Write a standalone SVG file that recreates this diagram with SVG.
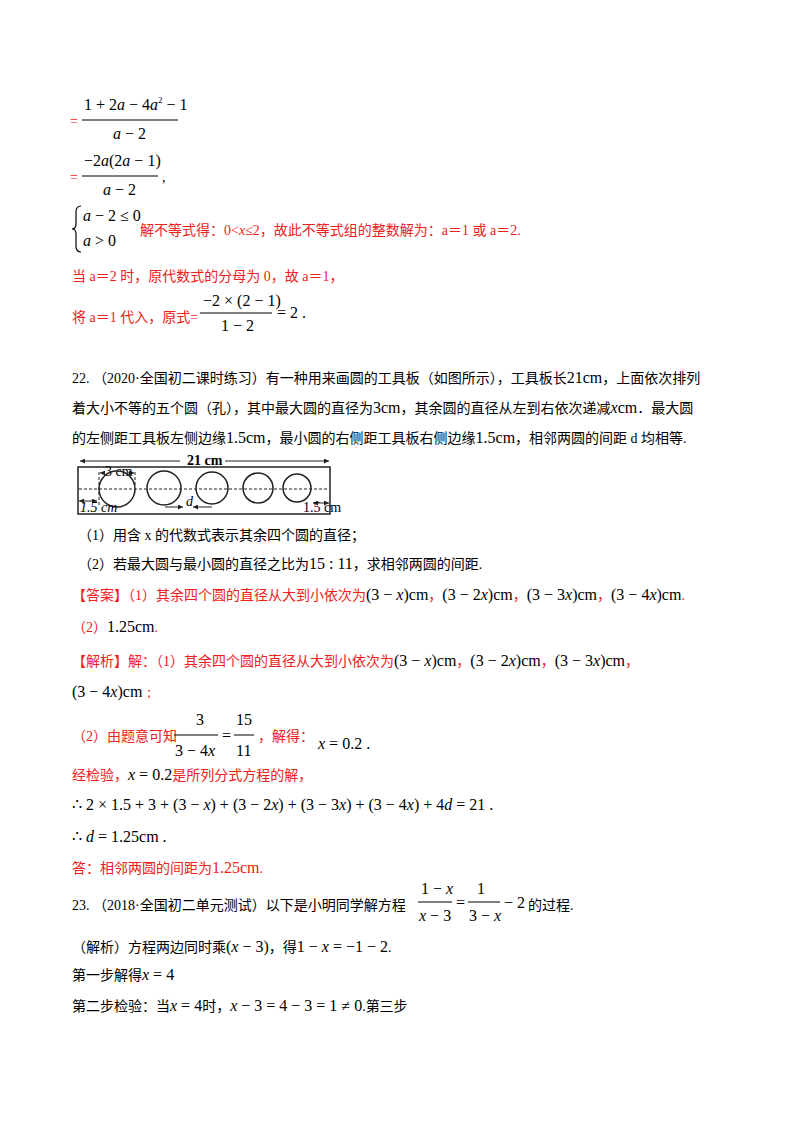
<svg xmlns="http://www.w3.org/2000/svg" width="800" height="1132" viewBox="0 0 800 1132">
<style>
text{font-family:"Liberation Serif","Noto Sans CJK SC",serif;font-size:14px;fill:#000}
.r{fill:#f02020}
.m{font-family:"Liberation Serif",serif;font-size:16px}
.i{font-style:italic}
.ln{stroke:#000;stroke-width:1;fill:none}
.c{fill:none;stroke:#222;stroke-width:1.5}
.d{stroke:#222;stroke-width:1;stroke-dasharray:3 2;fill:none}
</style>
<defs><marker id="a" viewBox="0 0 6 6" refX="6" refY="3" markerWidth="5" markerHeight="5" orient="auto-start-reverse"><path d="M0,0L6,3L0,6z" fill="#222"/></marker></defs>
<rect width="800" height="1132" fill="#fff"/>
<g id="text">
<text x="70" y="126" class="r">=</text>
<text x="84" y="110" class="m">1 + 2<tspan class="i">a</tspan> − 4<tspan class="i">a</tspan><tspan font-size="9" dy="-7">2</tspan><tspan dy="7"> − 1</tspan></text>
<line x1="82" y1="120" x2="178" y2="120" class="ln"/>
<text x="113" y="139" class="m"><tspan class="i">a</tspan> − 2</text>
<text x="70" y="182" class="r">=</text>
<text x="84" y="166" class="m">−2<tspan class="i">a</tspan>(2<tspan class="i">a</tspan> − 1)</text>
<line x1="82" y1="176" x2="158" y2="176" class="ln"/>
<text x="103" y="195" class="m"><tspan class="i">a</tspan> − 2</text>
<text x="162" y="182">,</text>
<path d="M81,206 Q76,206 76,212 L76,224 Q76,229 72,229 Q76,229 76,234 L76,246 Q76,252 81,252" fill="none" stroke="#000" stroke-width="1.2"/>
<text x="83" y="221" class="m"><tspan class="i">a</tspan> − 2 ≤ 0</text>
<text x="83" y="246" class="m"><tspan class="i">a</tspan> &gt; 0</text>
<text x="140" y="235" class="r">解不等式得：0&lt;<tspan font-style="italic">x</tspan>≤2，故此不等式组的整数解为：a＝1 或 a＝2.</text>
<text x="72" y="281" class="r">当 a＝2 时，原代数式的分母为 0，故 a＝1，</text>
<text x="72" y="322" class="r">将 a＝1 代入，原式=</text>
<text x="203" y="306" class="m">−2 × (2 − 1)</text>
<line x1="200" y1="313" x2="272" y2="313" class="ln"/>
<text x="221" y="331" class="m">1 − 2</text>
<text x="277" y="318" class="m">= 2 .</text>
<text x="72" y="383">22. （2020·全国初二课时练习）有一种用来画圆的工具板（如图所示），工具板长<tspan class="m">21cm</tspan>，上面依次排列</text>
<text x="72" y="413">着大小不等的五个圆（孔），其中最大圆的直径为<tspan class="m">3cm</tspan>，其余圆的直径从左到右依次递减<tspan class="m"><tspan class="i">x</tspan>cm</tspan>．最大圆</text>
<text x="72" y="443">的左侧距工具板左侧边缘<tspan class="m">1.5cm</tspan>，最小圆的右侧距工具板右侧边缘<tspan class="m">1.5cm</tspan>，相邻两圆的间距 d 均相等.</text>
<text x="78" y="540">（1）用含 x 的代数式表示其余四个圆的直径；</text>
<text x="78" y="569">（2）若最大圆与最小圆的直径之比为<tspan class="m">15 : 11</tspan>，求相邻两圆的间距.</text>
<text x="72" y="600" class="r">【答案】（1）其余四个圆的直径从大到小依次为<tspan class="m" fill="#000">(3 − <tspan class="i">x</tspan>)cm</tspan>，<tspan class="m" fill="#000">(3 − 2<tspan class="i">x</tspan>)cm</tspan>，<tspan class="m" fill="#000">(3 − 3<tspan class="i">x</tspan>)cm</tspan>，<tspan class="m" fill="#000">(3 − 4<tspan class="i">x</tspan>)cm</tspan>.</text>
<text x="72" y="632" class="r">（2）<tspan class="m" fill="#000">1.25cm</tspan>.</text>
<text x="72" y="666" class="r">【解析】解：（1）其余四个圆的直径从大到小依次为<tspan class="m" fill="#000">(3 − <tspan class="i">x</tspan>)cm</tspan>，<tspan class="m" fill="#000">(3 − 2<tspan class="i">x</tspan>)cm</tspan>，<tspan class="m" fill="#000">(3 − 3<tspan class="i">x</tspan>)cm</tspan>，</text>
<text x="72" y="697" class="m">(3 − 4<tspan class="i">x</tspan>)cm<tspan class="r" font-size="14">；</tspan></text>
<text x="72" y="741" class="r">（2）由题意可知</text>
<text x="196" y="725" class="m">3</text>
<text x="175" y="756" class="m">3 − 4<tspan class="i">x</tspan></text>
<line x1="174" y1="735" x2="218" y2="735" class="ln"/>
<text x="222" y="741" class="m">=</text>
<text x="236" y="725" class="m">15</text>
<text x="236" y="756" class="m">11</text>
<line x1="234" y1="735" x2="254" y2="735" class="ln"/>
<text x="258" y="741" class="r">，解得：</text>
<text x="318" y="749" class="m"><tspan class="i">x</tspan> = 0.2 .</text>
<text x="72" y="780" class="r">经检验，<tspan class="m" fill="#000"><tspan class="i">x</tspan> = 0.2</tspan>是所列分式方程的解，</text>
<text x="72" y="810" class="m">∴ 2 × 1.5 + 3 + (3 − <tspan class="i">x</tspan>) + (3 − 2<tspan class="i">x</tspan>) + (3 − 3<tspan class="i">x</tspan>) + (3 − 4<tspan class="i">x</tspan>) + 4<tspan class="i">d</tspan> = 21 .</text>
<text x="72" y="842" class="m">∴ <tspan class="i">d</tspan> = 1.25cm .</text>
<text x="72" y="873" class="r">答：相邻两圆的间距为<tspan class="m">1.25cm</tspan>.</text>
<text x="72" y="910">23. （2018·全国初二单元测试）以下是小明同学解方程</text>
<text x="421" y="894" class="m">1 − <tspan class="i">x</tspan></text>
<text x="419" y="921" class="m"><tspan class="i">x</tspan> − 3</text>
<line x1="418" y1="902" x2="452" y2="902" class="ln"/>
<text x="456" y="908" class="m">=</text>
<text x="477" y="894" class="m">1</text>
<text x="469" y="921" class="m">3 − <tspan class="i">x</tspan></text>
<line x1="468" y1="902" x2="500" y2="902" class="ln"/>
<text x="504" y="908" class="m">− 2</text>
<text x="528" y="910">的过程.</text>
<text x="72" y="952">（解析）方程两边同时乘<tspan class="m">(<tspan class="i">x</tspan> − 3)</tspan>，得<tspan class="m">1 − <tspan class="i">x</tspan> = −1 − 2</tspan>.</text>
<text x="72" y="980">第一步解得<tspan class="m"><tspan class="i">x</tspan> = 4</tspan></text>
<text x="72" y="1011">第二步检验：当<tspan class="m"><tspan class="i">x</tspan> = 4</tspan>时，<tspan class="m"><tspan class="i">x</tspan> − 3 = 4 − 3 = 1 ≠ 0</tspan>.第三步</text>
</g>
<g id="figure">
<line x1="80" y1="461" x2="180" y2="461" stroke="#222" marker-start="url(#a)"/>
<line x1="225" y1="461" x2="329" y2="461" stroke="#222" marker-end="url(#a)"/>
<text x="187" y="465" font-size="10" font-weight="bold">21 cm</text>
<rect x="78" y="467" width="252" height="47" fill="none" stroke="#222" stroke-width="1.5"/>
<line x1="79" y1="489" x2="329" y2="489" class="d"/>
<polyline points="99,472 99,505" class="d"/>
<polyline points="135,472 135,487" class="d"/>
<line x1="100" y1="473" x2="104" y2="473" stroke="#222" marker-start="url(#a)"/>
<line x1="128" y1="473" x2="134" y2="473" stroke="#222" marker-end="url(#a)"/>
<text x="105" y="476" font-size="8">3 cm</text>
<circle cx="117" cy="489" r="18" class="c"/>
<circle cx="164" cy="488" r="17" class="c"/>
<circle cx="212" cy="488" r="16" class="c"/>
<circle cx="258" cy="488" r="15" class="c"/>
<circle cx="297" cy="488" r="14" class="c"/>
<line x1="79" y1="501" x2="97" y2="501" stroke="#222" marker-start="url(#a)" marker-end="url(#a)"/>
<text x="80" y="512" font-size="8" font-style="italic">1.5 cm</text>
<line x1="165" y1="507" x2="183" y2="507" stroke="#222" marker-end="url(#a)"/>
<line x1="193" y1="507" x2="212" y2="507" stroke="#222" marker-start="url(#a)"/>
<text x="186" y="506" font-size="9" font-style="italic">d</text>
<line x1="313" y1="503" x2="329" y2="503" stroke="#222" marker-start="url(#a)" marker-end="url(#a)"/>
<text x="303" y="512" font-size="8">1.5 cm</text>
</g>
</svg>
